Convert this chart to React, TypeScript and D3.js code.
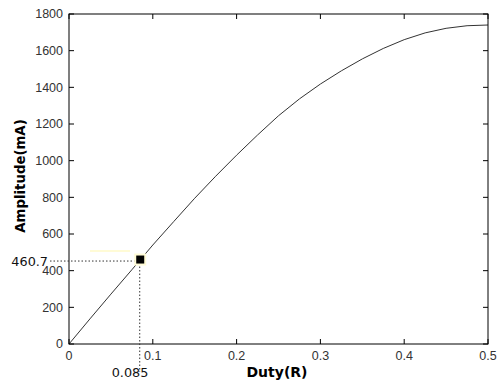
import * as d3 from "d3";

// duty values and the amplitude
const duty = [0, 0.025, 0.05, 0.075, 0.1, 0.125, 0.15, 0.175, 0.2, 0.225, 0.25, 0.275, 0.3, 0.325, 0.35, 0.375, 0.4, 0.425, 0.45, 0.475, 0.5];
const amplitude = [0, 137, 272, 405, 540, 668, 795, 915, 1030, 1140, 1245, 1337, 1418, 1490, 1555, 1612, 1660, 1697, 1722, 1736, 1740];
const xTicks = [0, 0.1, 0.2, 0.3, 0.4, 0.5];
const yTicks = [0, 200, 400, 600, 800, 1000, 1200, 1400, 1600, 1800];
const markDuty = 0.085;
const markAmp = 460.7;

const W = 502;
const H = 385;
const left = 69;
const right = 488;
const top = 14;
const bottom = 344;

const App = () => {
  const x = d3.scaleLinear().domain([0, 0.5]).range([left, right]);
  const y = d3.scaleLinear().domain([0, 1800]).range([bottom, top]);

  const line = d3
    .line<number>()
    .x((_d, i) => x(duty[i]))
    .y(d => y(d));

  const font = "'Liberation Sans', Arial, sans-serif";
  const boldFont = "'DejaVu Sans', sans-serif";
  const tick = 5;
  const mx = x(markDuty);
  const my = y(markAmp);

  return (
    <svg width={W} height={H} style={{ position: "absolute", left: 0, top: 0, background: "#fff" }} fontFamily={font}>
      {/* curve */}
      <path d={line(amplitude) ?? ""} fill="none" stroke="#333" strokeWidth={1} />

      {/* frame */}
      <rect x={left} y={top} width={right - left} height={bottom - top} fill="none" stroke="#000" strokeWidth={1} />

      {/* x ticks (bottom and top, pointing in) */}
      {xTicks.map(t => (
        <g key={"x" + t}>
          <line x1={x(t)} x2={x(t)} y1={bottom} y2={bottom - tick} stroke="#000" />
          <line x1={x(t)} x2={x(t)} y1={top} y2={top + tick} stroke="#000" />
          <text x={x(t)} y={360} textAnchor="middle" fontSize={12.5} fill="#333">{t}</text>
        </g>
      ))}

      {/* y ticks (left and right, pointing in) */}
      {yTicks.map(t => (
        <g key={"y" + t}>
          <line x1={left} x2={left + tick} y1={y(t)} y2={y(t)} stroke="#000" />
          <line x1={right} x2={right - tick} y1={y(t)} y2={y(t)} stroke="#000" />
          <text x={left - 6} y={y(t) + 4.3} textAnchor="end" fontSize={12.5} fill="#333">{t}</text>
        </g>
      ))}

      {/* axis titles */}
      <text x={277} y={377} textAnchor="middle" fontSize={14} fontWeight="bold" fontFamily={boldFont} fill="#000">Duty(R)</text>
      <text transform={`translate(25,176) rotate(-90)`} textAnchor="middle" fontSize={13.3} fontWeight="bold" fontFamily={boldFont} fill="#000">Amplitude(mA)</text>

      {/* marker with guide lines */}
      <rect x={90} y={250} width={40} height={2} fill="#fffbd6" />
      <line x1={50} x2={mx} y1={my + 1.5} y2={my + 1.5} stroke="#333" strokeDasharray="1.5,2" />
      <line x1={mx - 0.5} x2={mx - 0.5} y1={my} y2={372} stroke="#333" strokeDasharray="1.5,2" />
      <rect x={mx - 6} y={my - 6} width={12} height={12} fill="#fffbd6" />
      <rect x={mx - 4} y={my - 4} width={8} height={8} fill="#000" />
      <text x={48} y={266} textAnchor="end" fontSize={12.8} fontFamily={boldFont} fill="#111">{markAmp}</text>
      <text x={130} y={377} textAnchor="middle" fontSize={12.8} fontFamily={boldFont} fill="#111">{markDuty}</text>
    </svg>
  );
};

export default App;
